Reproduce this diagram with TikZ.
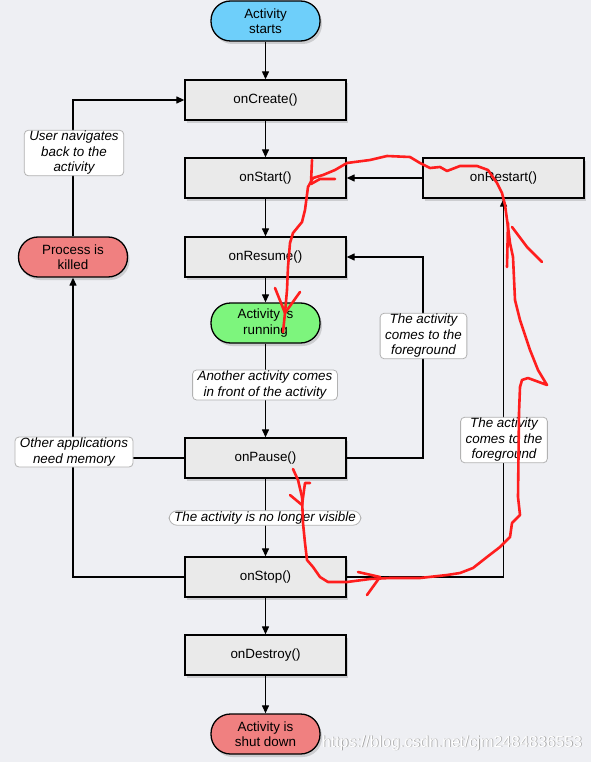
\documentclass[tikz,border=0pt]{standalone}
\usepackage{fontspec}
\setmainfont{Liberation Sans}
\usetikzlibrary{arrows.meta,shadows,calc}
\definecolor{bg}{RGB}{238,239,243}
\definecolor{boxf}{RGB}{234,234,234}
\definecolor{cyanf}{RGB}{110,207,250}
\definecolor{greenf}{RGB}{125,245,125}
\definecolor{redf}{RGB}{240,128,128}
\definecolor{inkred}{RGB}{255,30,30}
\begin{document}
\begin{tikzpicture}[x=1pt,y=-1pt,
  basefont/.style={font=\fontsize{13.4}{15.5}\selectfont},
  box/.style={basefont, draw=black, line width=1.3pt, fill=boxf, minimum width=161pt, minimum height=40pt, inner sep=0pt,
    drop shadow={shadow xshift=2pt, shadow yshift=-3pt, opacity=0.3}},
  stadium/.style={basefont, draw=black, line width=1.3pt, rounded corners=19.5pt, minimum width=109pt, minimum height=40pt, inner sep=0pt, align=center,
    drop shadow={shadow xshift=2pt, shadow yshift=-3pt, opacity=0.3}},
  lab/.style={font=\fontsize{13.4}{15.5}\selectfont\itshape, draw=gray!60, fill=white, rounded corners=4pt, line width=0.8pt, align=center, inner xsep=5pt, inner ysep=1pt},
  arr/.style={line width=1.2pt, -{Triangle[length=8pt,width=7pt]}},
  ln/.style={line width=1.2pt},
  redink/.style={draw=inkred, line width=2.6pt, line cap=round, line join=round}]
\fill[bg] (0,0) rectangle (591,762);
\useasboundingbox (0,0) rectangle (591,762);

% main nodes
\node[stadium, fill=cyanf] (st) at (265.5,21) {Activity\\starts};
\node[box] (cr) at (265.5,100) {onCreate()};
\node[box] (sa) at (265.5,178) {onStart()};
\node[box] (rs) at (503.5,178) {onRestart()};
\node[box] (re) at (265.5,257) {onResume()};
\node[stadium, fill=greenf] (ru) at (265.5,323) {Activity is\\running};
\node[box] (pa) at (265.5,458) {onPause()};
\node[box] (so) at (265.5,577) {onStop()};
\node[box] (de) at (265.5,655) {onDestroy()};
\node[stadium, fill=redf] (sd) at (265.5,734) {Activity is\\shut down};
\node[stadium, fill=redf] (pk) at (73,257) {Process is\\killed};
\coordinate (c1) at (423,458);

% connectors
\draw[arr] (st) -- (cr);
\draw[arr] (cr) -- (sa);
\draw[arr] (sa) -- (re);
\draw[arr] (re) -- (ru);
\draw[arr] (ru) -- (pa);
\draw[arr] (pa) -- (so);
\draw[arr] (so) -- (de);
\draw[arr] (de) -- (sd);
\draw[arr] (rs) -- (sa);
\draw[arr] (pa.east) -- (c1) |- (re.east);
\draw[arr] (so.east) -| (rs.south);
\draw[arr] (so.west) -| (pk.south);
\draw[ln] (pa.west) -- (pa.west -| pk.south);
\draw[arr] (pk.north) |- (cr.west);

% labels
\node[lab] (l1) at (265,385) {Another activity comes\\in front of the activity};
\node[lab, rounded corners=8pt] (l2) at (265,518) {The activity is no longer visible};
\node[lab] (l3) at (74,153) {User navigates\\back to the\\activity};
\node[lab] (l4) at (74,452) {Other applications\\need memory};
\node[lab] (l5) at (423.5,336) {The activity\\comes to the\\foreground};
\node[lab] (l6) at (504,440) {The activity\\comes to the\\foreground};

% red hand-drawn strokes
\draw[redink] (293,469) -- (298,480) -- (302,497) -- (303,523) -- (305,543) -- (307,560) -- (313,567) -- (320,577) -- (328,582) -- (347,582) -- (370,579) -- (390,578) -- (420,578) -- (447,575) -- (460,573) -- (473,568) -- (487,557) -- (500,547) -- (510,537) -- (512,523) -- (520,515) -- (518,497) -- (519,413) -- (520,387) -- (522,380) -- (528,378) -- (547,385) -- (538,370) -- (530,350) -- (520,320) -- (515,300) -- (513,257) -- (510,243) -- (508,227) -- (505,205) -- (502,193) -- (497,183) -- (488,170) -- (477,166) -- (460,166) -- (447,171) -- (440,167) -- (430,168) -- (420,163) -- (410,157) -- (387,156) -- (370,160) -- (347,163) -- (335,170) -- (323,175) -- (313,178) -- (308,187) -- (305,210) -- (302,222) -- (293,233) -- (290,243) -- (288,267) -- (287,290) -- (285,313) -- (283,332);
\draw[redink] (312,160) -- (311,183);
\draw[redink] (335,179) -- (320,179) -- (311,184);
\draw[redink] (275,288) -- (285,313) -- (300,292);
\draw[redink] (508,223) -- (507,267);
\draw[redink] (512,227) -- (527,247) -- (542,262);
\draw[redink] (290,495) -- (302,505) -- (305,483) -- (310,483);
\draw[redink] (358,572) -- (380,577) -- (367,595);

% watermark
\node[font=\fontsize{15.9}{18}\selectfont, text=gray!70, inner sep=0pt] at (452.8,743.8) {https://blog.csdn.net/cjm2484836553};
\node[font=\fontsize{15.9}{18}\selectfont, text=white, inner sep=0pt] (wm) at (452,743) {https://blog.csdn.net/cjm2484836553};
\end{tikzpicture}
\end{document}
